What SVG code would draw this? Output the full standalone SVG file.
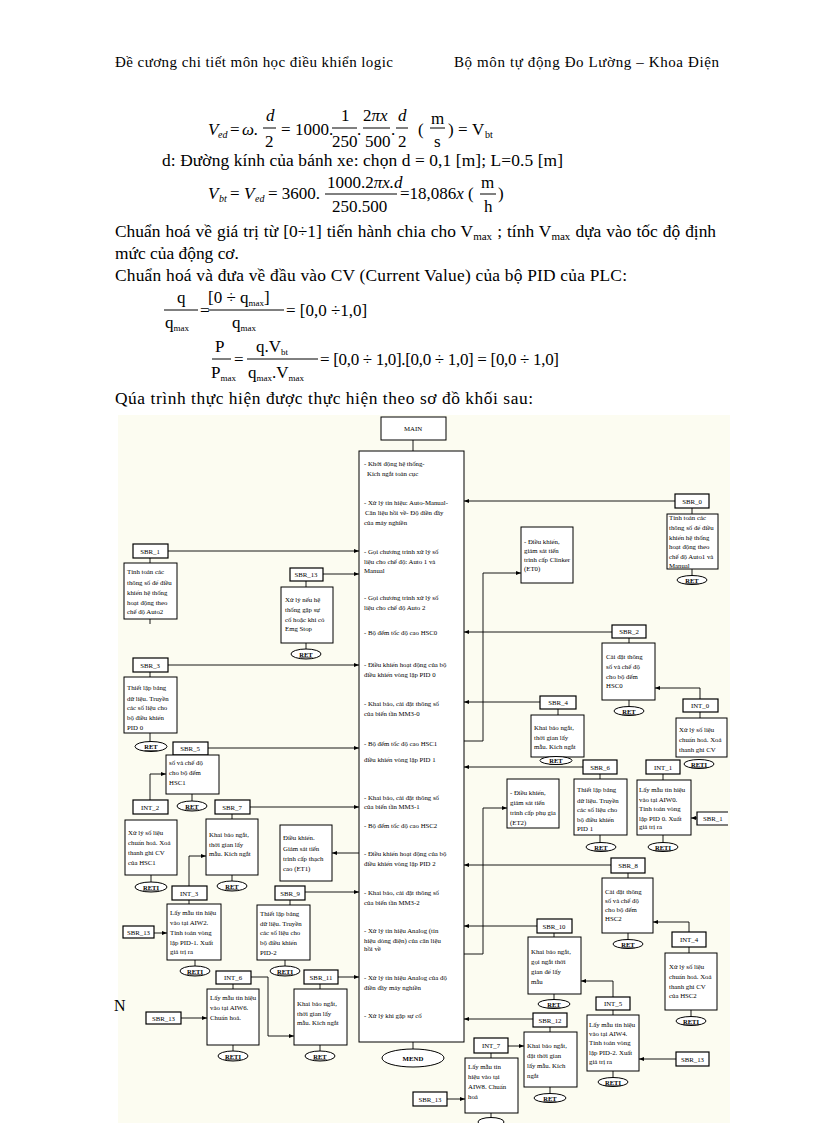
<svg xmlns="http://www.w3.org/2000/svg" width="816" height="1123" viewBox="0 0 816 1123" font-family="'Liberation Serif', 'Times New Roman', serif">
<style>
.s{font-family:"Liberation Serif","Times New Roman",serif;fill:#000}
.hdr{font-size:15px}
.bd{font-size:17.4px}
.fm{font-size:17px}
.it{font-style:italic}
.sb{font-size:10px}
.t{font-family:"Liberation Serif",serif;font-size:6.8px;fill:#000}
.c{text-anchor:middle}
.lb{fill:#fff;stroke:#000;stroke-width:1.2}
.bx{fill:#fff;stroke:#000;stroke-width:1}
.ov{fill:#fff;stroke:#000;stroke-width:1}
.ret{font-family:"Liberation Serif",serif;font-size:6.5px;font-weight:bold;text-anchor:middle;text-decoration:underline}
.fl{stroke:#000;stroke-width:1}
.cn{fill:none;stroke:#000;stroke-width:0.9}
</style>
<defs>
<marker id="a" markerWidth="5" markerHeight="4" refX="5" refY="2" orient="auto" markerUnits="userSpaceOnUse"><path d="M0,0L5,2L0,4z" fill="#000"/></marker>
</defs>
<rect width="816" height="1123" fill="#fff"/>
<rect x="118" y="415" width="612" height="708" fill="#fcfcf1"/>

<!-- header -->
<text class="s hdr" x="115" y="67" textLength="278">Đề cương chi tiết môn học điều khiển logic</text>
<text class="s hdr" x="454" y="67" textLength="265">Bộ môn tự động Đo Lường – Khoa  Điện</text>

<!-- formula 1 -->
<text class="s fm it" x="208" y="135">V</text><text class="s sb it" x="218" y="138">ed</text>
<text class="s fm" x="230" y="135">=</text><text class="s fm it" x="242" y="135">ω.</text>
<text class="s fm it" x="266" y="121">d</text><line class="fl" x1="263" y1="128" x2="276" y2="128"/><text class="s fm" x="265" y="147">2</text>
<text class="s fm" x="281" y="135">=</text><text class="s fm" x="295" y="135">1000.</text>
<text class="s fm" x="341" y="121">1</text><line class="fl" x1="332" y1="128" x2="357" y2="128"/><text class="s fm" x="332" y="147">250</text>
<text class="s fm" x="357" y="135">.</text>
<text class="s fm" x="363" y="121">2<tspan class="it">πx</tspan></text><line class="fl" x1="363" y1="128" x2="390" y2="128"/><text class="s fm" x="365" y="147">500</text>
<text class="s fm" x="391" y="135">.</text>
<text class="s fm it" x="398" y="121">d</text><line class="fl" x1="396" y1="128" x2="408" y2="128"/><text class="s fm" x="398" y="147">2</text>
<text class="s fm" x="418" y="135">(</text><text class="s fm" x="431" y="124">m</text><line class="fl" x1="430" y1="128" x2="445" y2="128"/><text class="s fm" x="434" y="147">s</text><text class="s fm" x="448" y="135">)</text>
<text class="s fm" x="458" y="135">=</text><text class="s fm" x="472" y="135">V</text><text class="s sb" x="485" y="138">bt</text>

<text class="s bd" x="162" y="166" textLength="401">d: Đường kính của bánh xe: chọn d = 0,1  [m]; L=0.5 [m]</text>

<!-- formula 2 -->
<text class="s fm it" x="208" y="199">V</text><text class="s sb it" x="219" y="202">bt</text>
<text class="s fm" x="230" y="199">=</text><text class="s fm it" x="244" y="199">V</text><text class="s sb it" x="255" y="202">ed</text>
<text class="s fm" x="268" y="199">= 3600.</text>
<text class="s fm" x="327" y="188">1000.2<tspan class="it">πx.d</tspan></text><line class="fl" x1="325" y1="194" x2="397" y2="194"/><text class="s fm" x="332" y="212">250.500</text>
<text class="s fm" x="400" y="199">=18,086<tspan class="it">x</tspan></text>
<text class="s fm" x="468" y="199">(</text><text class="s fm" x="481" y="188">m</text><line class="fl" x1="480" y1="194" x2="496" y2="194"/><text class="s fm" x="484" y="212">h</text><text class="s fm" x="498" y="199">)</text>

<!-- paragraph -->
<text class="s bd" x="115" y="237" word-spacing="0.7">Chuẩn hoá về giá trị từ [0÷1] tiến hành chia cho V<tspan font-size="11" dy="3">max</tspan><tspan dy="-3"> ; tính  V</tspan><tspan font-size="11" dy="3">max</tspan><tspan dy="-3"> dựa vào tốc độ định</tspan></text>
<text class="s bd" x="115" y="259">mức của động cơ.</text>
<text class="s bd" x="115" y="281" textLength="512">Chuẩn hoá và đưa về đầu vào CV (Current Value) của bộ PID của PLC:</text>

<!-- q formula -->
<text class="s fm" x="177" y="303">q</text><line class="fl" x1="164" y1="310" x2="198" y2="310"/><text class="s fm" x="165" y="328">q<tspan font-size="9" dy="3">max</tspan></text>
<text class="s fm" x="200" y="316">=</text>
<text class="s fm" x="208" y="303">[0 ÷ q<tspan font-size="9" dy="3">max</tspan><tspan dy="-3">]</tspan></text><line class="fl" x1="208" y1="310" x2="284" y2="310"/><text class="s fm" x="232" y="328">q<tspan font-size="9" dy="3">max</tspan></text>
<text class="s fm" x="286" y="316">= [0,0 ÷1,0]</text>
<!-- P formula -->
<text class="s fm" x="215" y="352">P</text><line class="fl" x1="212" y1="359" x2="231" y2="359"/><text class="s fm" x="211" y="378">P<tspan font-size="9" dy="3">max</tspan></text>
<text class="s fm" x="234" y="365">=</text>
<text class="s fm" x="256" y="352">q.V<tspan font-size="9" dy="3">bt</tspan></text><line class="fl" x1="247" y1="359" x2="318" y2="359"/><text class="s fm" x="248" y="378">q<tspan font-size="9" dy="3">max</tspan><tspan dy="-3">.V</tspan><tspan font-size="9" dy="3">max</tspan></text>
<text class="s fm" x="320" y="365" textLength="239">= [0,0 ÷ 1,0].[0,0 ÷ 1,0] = [0,0 ÷ 1,0]</text>

<text class="s bd" x="115" y="404" textLength="418">Qúa trình thực hiện được thực hiện theo sơ đồ khối sau:</text>

<!-- ===== connectors ===== -->
<g id="connectors">
<path class="cn" d="M413,440V451"/>
<path class="cn" d="M413,1042V1049"/>
<path class="cn" marker-end="url(#a)" d="M168,551H359"/>
<path class="cn" marker-end="url(#a)" d="M323,574H359"/>
<path class="cn" marker-end="url(#a)" d="M168,665H359"/>
<path class="cn" marker-end="url(#a)" d="M208,748H359"/>
<path class="cn" marker-end="url(#a)" d="M250,807H359"/>
<path class="cn" marker-end="url(#a)" d="M359,853H332"/>
<path class="cn" marker-end="url(#a)" d="M305,892H359"/>
<path class="cn" marker-end="url(#a)" d="M338,977H359"/>
<path class="cn" marker-end="url(#a)" d="M675,501H464"/>
<path class="cn" marker-end="url(#a)" d="M612,632H464"/>
<path class="cn" marker-end="url(#a)" d="M540,702H464"/>
<path class="cn" marker-end="url(#a)" d="M583,767H464"/>
<path class="cn" marker-end="url(#a)" d="M611,865H464"/>
<path class="cn" marker-end="url(#a)" d="M537,926H464"/>
<path class="cn" marker-end="url(#a)" d="M533,1019H464"/>
<path class="cn" marker-end="url(#a)" d="M464,741H483V573H521"/>
<path class="cn" marker-end="url(#a)" d="M464,954H483V808H507"/>
<path class="cn" marker-end="url(#a)" d="M150,800V774H166"/>
<path class="cn" marker-end="url(#a)" d="M189,886V856H206"/>
<path class="cn" marker-end="url(#a)" d="M154,933H167"/>
<path class="cn" marker-end="url(#a)" d="M251,977H268V1036H294"/>
<path class="cn" marker-end="url(#a)" d="M181,1018H207"/>
<path class="cn" marker-end="url(#a)" d="M700,699V688H655"/>
<path class="cn" marker-end="url(#a)" d="M697,818H691"/>
<path class="cn" marker-end="url(#a)" d="M689,932V922H653"/>
<path class="cn" marker-end="url(#a)" d="M613,997V981H581"/>
<path class="cn" marker-end="url(#a)" d="M676,1059H639"/>
<path class="cn" marker-end="url(#a)" d="M508,1046H524"/>
<path class="cn" marker-end="url(#a)" d="M447,1099H465"/>
<path class="cn" d="M150,558V563M150,619V624M306,581V587M306,643V649M150,672V677M150,733V742M192,794V801M151,875V882M232,814V819M232,875V881M195,960V966M285,960V966M233,984V989M233,1045V1051M320,984V989M320,1045V1051M692,508V514M692,569V576M629,638V643M629,700V707M700,712V718M558,709V715M600,774V779M600,835V843M663,774V780M663,835V843M628,873V878M628,933V940M689,947V953M691,1010V1017M554,933V937M554,994V1000M613,1010V1015M613,1071V1078M550,1027V1032M550,1087V1094M491,1053V1058M491,1113V1117M189,900V904M290,900V905"/>
</g>

<!-- ===== nodes ===== -->
<g id="MAIN"><rect class="bx" x="381" y="417" width="65" height="23"/><text class="t c" x="413" y="431">MAIN</text></g>
<g id="main-body"><rect class="bx" x="359" y="451" width="105" height="591"/>
<text class="t" x="364"><tspan x="364" y="466">- Khởi động hệ thống-</tspan><tspan x="367" y="476">Kích ngắt toàn cục</tspan><tspan x="364" y="505">- Xử lý tín hiệu: Auto-Manual-</tspan><tspan x="365" y="515">Cân liệu hồi về- Độ điền đầy</tspan><tspan x="364" y="525">của máy nghiền</tspan><tspan x="364" y="554">- Gọi chương trình xử lý số</tspan><tspan x="364" y="564">liệu cho chế độ: Auto 1 và</tspan><tspan x="364" y="573">Manual</tspan><tspan x="364" y="600">- Gọi chương trình xử lý số</tspan><tspan x="364" y="610">liệu cho chế độ Auto 2</tspan><tspan x="364" y="635">- Bộ đếm tốc độ cao HSC0</tspan><tspan x="364" y="667">- Điều khiển hoạt động của bộ</tspan><tspan x="364" y="677">điều khiển vòng lặp PID 0</tspan><tspan x="364" y="706">- Khai báo, cài đặt thông số</tspan><tspan x="364" y="716">của biến tần MM3-0</tspan><tspan x="364" y="746">- Bộ đếm tốc độ cao HSC1</tspan><tspan x="364" y="762">điều khiển vòng lặp PID 1</tspan><tspan x="364" y="800">- Khai báo, cài đặt thông số</tspan><tspan x="364" y="809">của biến tần MM3-1</tspan><tspan x="364" y="828">- Bộ đếm tốc độ cao HSC2</tspan><tspan x="364" y="856">- Điều khiển hoạt động của bộ</tspan><tspan x="364" y="866">điều khiển vòng lặp PID 2</tspan><tspan x="364" y="895">- Khai báo, cài đặt thông số</tspan><tspan x="364" y="905">của biến tần MM3-2</tspan><tspan x="364" y="933">- Xử lý tín hiệu Analog (tín</tspan><tspan x="364" y="943">hiệu dòng điện) của cân liệu</tspan><tspan x="364" y="951">hồi về</tspan><tspan x="364" y="980">- Xử lý tín hiệu Analog của độ</tspan><tspan x="364" y="990">điền đầy máy nghiền</tspan><tspan x="364" y="1018">- Xử lý khi gặp sự cố</tspan></text></g>
<g id="MEND"><ellipse class="ov" cx="413" cy="1058" rx="31" ry="9"/><text class="t c" x="413" y="1061" font-weight="bold">MEND</text></g>

<g id="SBR_1"><rect class="lb" x="133" y="544" width="35" height="14"/><text class="t c" x="150" y="553.5">SBR_1</text>
<rect class="bx" x="124" y="563" width="53" height="56"/><text class="t"><tspan x="127" y="574">Tính toán các</tspan><tspan x="127" y="585">thông số để điều</tspan><tspan x="127" y="595">khiển hệ thống</tspan><tspan x="127" y="605">hoạt động theo</tspan><tspan x="127" y="614">chế độ Auto2</tspan></text></g>

<g id="SBR_13a"><rect class="lb" x="290" y="568" width="33" height="13"/><text class="t c" x="306" y="577">SBR_13</text>
<rect class="bx" x="281" y="587" width="52" height="56"/><text class="t"><tspan x="285" y="602">Xử lý nếu hệ</tspan><tspan x="285" y="612">thống gặp sự</tspan><tspan x="285" y="622">cố hoặc khi có</tspan><tspan x="285" y="631">Emg Stop</tspan></text>
<ellipse class="ov" cx="306" cy="654" rx="15" ry="5"/><text class="ret" x="306" y="656.5">RET</text></g>

<g id="SBR_3"><rect class="lb" x="133" y="658" width="35" height="14"/><text class="t c" x="150" y="667.5">SBR_3</text>
<rect class="bx" x="124" y="677" width="53" height="56"/><text class="t"><tspan x="127" y="690">Thiết lập bảng</tspan><tspan x="127" y="701">dữ liệu. Truyền</tspan><tspan x="127" y="710">các số liệu cho</tspan><tspan x="127" y="720">bộ điều khiển</tspan><tspan x="127" y="730">PID 0</tspan></text>
<ellipse class="ov" cx="151" cy="746.5" rx="16" ry="5"/><text class="ret" x="151" y="749">RET</text></g>

<g id="SBR_5"><rect class="lb" x="173" y="742" width="35" height="13"/><text class="t c" x="190" y="751">SBR_5</text>
<rect class="bx" x="166" y="755" width="53" height="39"/><text class="t"><tspan x="169" y="765">số và chế độ</tspan><tspan x="169" y="775">cho bộ đếm</tspan><tspan x="169" y="785">HSC1</tspan></text>
<ellipse class="ov" cx="192" cy="806" rx="15" ry="5"/><text class="ret" x="192" y="808.5">RET</text></g>

<g id="INT_2"><rect class="lb" x="133" y="800" width="35" height="14"/><text class="t c" x="150" y="809.5">INT_2</text>
<rect class="bx" x="125" y="820" width="52" height="55"/><text class="t"><tspan x="128" y="835">Xử lý số liệu</tspan><tspan x="128" y="845">chuẩn hoá. Xoá</tspan><tspan x="128" y="855">thanh ghi CV</tspan><tspan x="128" y="865">của HSC1</tspan></text>
<ellipse class="ov" cx="151" cy="887" rx="16" ry="5"/><text class="ret" x="151" y="889.5">RETI</text></g>

<g id="SBR_7"><rect class="lb" x="215" y="800" width="35" height="14"/><text class="t c" x="232" y="809.5">SBR_7</text>
<rect class="bx" x="206" y="819" width="52" height="56"/><text class="t"><tspan x="209" y="837">Khai báo ngắt,</tspan><tspan x="209" y="847">thời gian lấy</tspan><tspan x="209" y="856">mẫu. Kích ngắt</tspan></text>
<ellipse class="ov" cx="232" cy="886" rx="15" ry="5"/><text class="ret" x="232" y="888.5">RET</text></g>

<g id="ET1"><rect class="bx" x="280" y="825" width="52" height="56"/><text class="t"><tspan x="283" y="840">Điều khiển.</tspan><tspan x="283" y="851">Giám sát tiến</tspan><tspan x="283" y="861">trình cấp thạch</tspan><tspan x="283" y="871">cao (ET1)</tspan></text></g>

<g id="INT_3"><rect class="lb" x="172" y="886" width="35" height="14"/><text class="t c" x="189" y="895.5">INT_3</text>
<rect class="bx" x="167" y="904" width="54" height="56"/><text class="t"><tspan x="170" y="915">Lấy mẫu tín hiệu</tspan><tspan x="170" y="925">vào tại AIW2.</tspan><tspan x="170" y="935">Tính toán vòng</tspan><tspan x="170" y="945">lặp PID-1. Xuất</tspan><tspan x="170" y="954">giá trị ra</tspan></text>
<ellipse class="ov" cx="195" cy="971" rx="15" ry="5"/><text class="ret" x="195" y="973.5">RETI</text></g>

<g id="SBR_13b"><rect class="lb" x="123" y="926" width="31" height="12"/><text class="t c" x="138.5" y="934.5">SBR_13</text></g>

<g id="SBR_9"><rect class="lb" x="275" y="886" width="30" height="14"/><text class="t c" x="290" y="895.5">SBR_9</text>
<rect class="bx" x="257" y="905" width="53" height="55"/><text class="t"><tspan x="260" y="916">Thiết lập bảng</tspan><tspan x="260" y="926">dữ liệu. Truyền</tspan><tspan x="260" y="935">các số liệu cho</tspan><tspan x="260" y="945">bộ điều khiển</tspan><tspan x="260" y="955">PID-2</tspan></text>
<ellipse class="ov" cx="285" cy="971" rx="15" ry="5"/><text class="ret" x="285" y="973.5">RETI</text></g>

<g id="INT_6"><rect class="lb" x="216" y="971" width="35" height="13"/><text class="t c" x="233" y="980">INT_6</text>
<rect class="bx" x="207" y="989" width="52" height="56"/><text class="t"><tspan x="210" y="1000">Lấy mẫu tín hiệu</tspan><tspan x="210" y="1010">vào tại AIW6.</tspan><tspan x="210" y="1020">Chuẩn hoá.</tspan></text>
<ellipse class="ov" cx="233" cy="1056" rx="15" ry="5"/><text class="ret" x="233" y="1058.5">RETI</text></g>

<g id="SBR_13c"><rect class="lb" x="146" y="1012" width="35" height="12"/><text class="t c" x="163.5" y="1020.5">SBR_13</text></g>

<g id="SBR_11"><rect class="lb" x="304" y="970" width="34" height="14"/><text class="t c" x="321" y="979.5">SBR_11</text>
<rect class="bx" x="294" y="989" width="53" height="56"/><text class="t"><tspan x="297" y="1006">Khai báo ngắt,</tspan><tspan x="297" y="1016">thời gian lấy</tspan><tspan x="297" y="1025">mẫu. Kích ngắt</tspan></text>
<ellipse class="ov" cx="320" cy="1056" rx="15" ry="5"/><text class="ret" x="320" y="1058.5">RET</text></g>

<text class="s" x="114" y="1011" font-size="16">N</text>

<g id="SBR_0"><rect class="lb" x="675" y="494" width="34" height="14"/><text class="t c" x="692" y="503.5">SBR_0</text>
<rect class="bx" x="667" y="514" width="51" height="55"/><text class="t"><tspan x="669" y="520">Tính toán các</tspan><tspan x="669" y="530">thông số để điều</tspan><tspan x="669" y="539.5">khiển hệ thống</tspan><tspan x="669" y="549">hoạt động theo</tspan><tspan x="669" y="558.5">chế độ Auto1 và</tspan><tspan x="669" y="567.5">Manual</tspan></text>
<ellipse class="ov" cx="692" cy="580" rx="15" ry="4.5"/><text class="ret" x="692" y="582.5">RET</text></g>

<g id="ET0"><rect class="bx" x="521" y="527" width="52" height="56"/><text class="t"><tspan x="524" y="544">- Điều khiển,</tspan><tspan x="524" y="553">giám sát tiến</tspan><tspan x="524" y="562">trình cấp Clinker</tspan><tspan x="524" y="571">(ET0)</tspan></text></g>

<g id="SBR_2"><rect class="lb" x="612" y="625" width="34" height="13"/><text class="t c" x="629" y="634">SBR_2</text>
<rect class="bx" x="602" y="643" width="53" height="57"/><text class="t"><tspan x="606" y="659">Cài đặt thông</tspan><tspan x="606" y="669">số và chế độ</tspan><tspan x="606" y="679">cho bộ đếm</tspan><tspan x="606" y="688">HSC0</tspan></text>
<ellipse class="ov" cx="629" cy="711" rx="15" ry="4.5"/><text class="ret" x="629" y="713.5">RET</text></g>

<g id="INT_0"><rect class="lb" x="683" y="699" width="35" height="13"/><text class="t c" x="700" y="708">INT_0</text>
<rect class="bx" x="676" y="718" width="51" height="39"/><text class="t"><tspan x="679" y="732">Xử lý số liệu</tspan><tspan x="679" y="742">chuẩn hoá. Xoá</tspan><tspan x="679" y="752">thanh ghi CV</tspan></text>
<ellipse class="ov" cx="699" cy="764" rx="15" ry="4.5"/><text class="ret" x="699" y="766.5">RETI</text></g>

<g id="SBR_4"><rect class="lb" x="540" y="696" width="36" height="13"/><text class="t c" x="558" y="705">SBR_4</text>
<rect class="bx" x="531" y="715" width="53" height="42"/><text class="t"><tspan x="534" y="730">Khai báo ngắt,</tspan><tspan x="534" y="740">thời gian lấy</tspan><tspan x="534" y="749">mẫu. Kích ngắt</tspan></text>
<ellipse class="ov" cx="556" cy="760.5" rx="16" ry="4"/><text class="ret" x="556" y="763">RET</text></g>

<g id="ET2"><rect class="bx" x="507" y="779" width="52" height="49"/><text class="t"><tspan x="510" y="795">- Điều khiển,</tspan><tspan x="510" y="805">giám sát tiến</tspan><tspan x="510" y="815">trình cấp phụ gia</tspan><tspan x="510" y="825">(ET2)</tspan></text></g>

<g id="SBR_6"><rect class="lb" x="583" y="760" width="34" height="14"/><text class="t c" x="600" y="769.5">SBR_6</text>
<rect class="bx" x="574" y="779" width="53" height="56"/><text class="t"><tspan x="577" y="792">Thiết lập bảng</tspan><tspan x="577" y="803">dữ liệu. Truyền</tspan><tspan x="577" y="812">các số liệu cho</tspan><tspan x="577" y="822">bộ điều khiển</tspan><tspan x="577" y="831">PID 1</tspan></text>
<ellipse class="ov" cx="601" cy="847" rx="15" ry="4.5"/><text class="ret" x="601" y="849.5">RET</text></g>

<g id="INT_1"><rect class="lb" x="646" y="760" width="34" height="14"/><text class="t c" x="663" y="769.5">INT_1</text>
<rect class="bx" x="637" y="780" width="54" height="55"/><text class="t"><tspan x="639" y="792">Lấy mẫu tín hiệu</tspan><tspan x="639" y="802">vào tại AIW0.</tspan><tspan x="639" y="811">Tính toán vòng</tspan><tspan x="639" y="821">lặp PID 0. Xuất</tspan><tspan x="639" y="829">giá trị ra</tspan></text>
<ellipse class="ov" cx="663" cy="847" rx="15" ry="4.5"/><text class="ret" x="663" y="849.5">RETI</text></g>

<g id="SBR_13d"><path class="lb" d="M728,812H697V825H728"/><text class="t" x="703" y="821">SBR_1</text></g>

<g id="SBR_8"><rect class="lb" x="611" y="858" width="34" height="15"/><text class="t c" x="628" y="868">SBR_8</text>
<rect class="bx" x="602" y="878" width="51" height="55"/><text class="t"><tspan x="605" y="894">Cài đặt thông</tspan><tspan x="605" y="903">số và chế độ</tspan><tspan x="605" y="912">cho bộ đếm</tspan><tspan x="605" y="921">HSC2</tspan></text>
<ellipse class="ov" cx="628" cy="944" rx="15" ry="4.5"/><text class="ret" x="628" y="946.5">RET</text></g>

<g id="INT_4"><rect class="lb" x="672" y="932" width="34" height="15"/><text class="t c" x="689" y="942">INT_4</text>
<rect class="bx" x="665" y="953" width="52" height="57"/><text class="t"><tspan x="669" y="969">Xử lý số liệu</tspan><tspan x="669" y="979">chuẩn hoá. Xoá</tspan><tspan x="669" y="989">thanh ghi CV</tspan><tspan x="669" y="998">của HSC2</tspan></text>
<ellipse class="ov" cx="691" cy="1021" rx="15" ry="4.5"/><text class="ret" x="691" y="1023.5">RETI</text></g>

<g id="SBR_10"><rect class="lb" x="537" y="919" width="35" height="14"/><text class="t c" x="554" y="928.5">SBR_10</text>
<rect class="bx" x="528" y="937" width="53" height="57"/><text class="t"><tspan x="531" y="954">Khai báo ngắt,</tspan><tspan x="531" y="964">gọi ngắt thời</tspan><tspan x="531" y="974">gian để lấy</tspan><tspan x="531" y="984">mẫu</tspan></text>
<ellipse class="ov" cx="554" cy="1004" rx="16" ry="4.5"/><text class="ret" x="554" y="1006.5">RET</text></g>

<g id="INT_5"><rect class="lb" x="596" y="997" width="34" height="13"/><text class="t c" x="613" y="1006">INT_5</text>
<rect class="bx" x="587" y="1015" width="52" height="56"/><text class="t"><tspan x="589" y="1027">Lấy mẫu tín hiệu</tspan><tspan x="589" y="1036">vào tại AIW4.</tspan><tspan x="589" y="1045">Tính toán vòng</tspan><tspan x="589" y="1055">lặp PID-2. Xuất</tspan><tspan x="589" y="1064">giá trị ra</tspan></text>
<ellipse class="ov" cx="613" cy="1082" rx="15" ry="4.5"/><text class="ret" x="613" y="1084.5">RETI</text></g>

<g id="SBR_13e"><rect class="lb" x="676" y="1052" width="33" height="14"/><text class="t c" x="692.5" y="1061.5">SBR_13</text></g>

<g id="SBR_12"><rect class="lb" x="533" y="1013" width="34" height="14"/><text class="t c" x="550" y="1022.5">SBR_12</text>
<rect class="bx" x="524" y="1032" width="53" height="55"/><text class="t"><tspan x="527" y="1048">Khai báo ngắt,</tspan><tspan x="527" y="1058">đặt thời gian</tspan><tspan x="527" y="1068">lấy mẫu. Kích</tspan><tspan x="527" y="1078">ngắt</tspan></text>
<ellipse class="ov" cx="550" cy="1098" rx="16" ry="4.5"/><text class="ret" x="550" y="1100.5">RET</text></g>

<g id="INT_7"><rect class="lb" x="474" y="1038" width="34" height="15"/><text class="t c" x="491" y="1048">INT_7</text>
<rect class="bx" x="465" y="1058" width="53" height="55"/><text class="t"><tspan x="468" y="1069">Lấy mẫu tín</tspan><tspan x="468" y="1079">hiệu vào tại</tspan><tspan x="468" y="1089">AIW8. Chuẩn</tspan><tspan x="468" y="1099">hoá</tspan></text>
<ellipse class="ov" cx="491" cy="1122" rx="13" ry="4.5"/></g>

<g id="SBR_13f"><rect class="lb" x="413" y="1092" width="34" height="14"/><text class="t c" x="430" y="1101.5">SBR_13</text></g>
</svg>
